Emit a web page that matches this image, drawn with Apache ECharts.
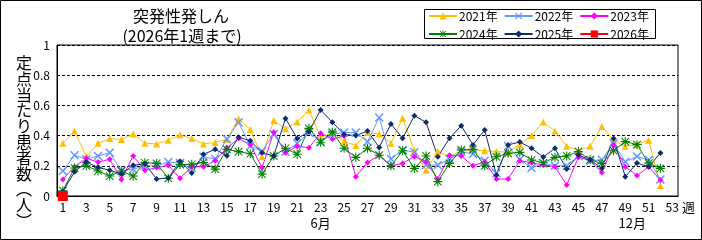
<!DOCTYPE html>
<html>
<head>
<meta charset="utf-8">
<script src="https://cdn.jsdelivr.net/npm/echarts@6/dist/echarts.min.js"></script>
<style>
html,body{margin:0;padding:0;background:#fff;}
#c{width:702px;height:240px;}
</style>
</head>
<body>
<div id="c"></div>
<script>
// ---- data ----
const weeks = Array.from({length: 53}, (_, i) => String(i + 1));
const seriesNames = ['2021年', '2022年', '2023年', '2024年', '2025年', '2026年'];
const y2021 = [0.35,0.43,0.26,0.35,0.38,0.375,0.41,0.35,0.345,0.37,
  0.405,0.38,0.345,0.355,0.375,0.51,0.44,0.26,0.5,0.445,
  0.49,0.57,0.39,0.42,0.36,0.335,0.42,0.41,0.35,0.515,
  0.30,0.17,0.295,0.26,0.30,0.305,0.30,0.295,0.29,0.34,
  0.40,0.49,0.43,0.33,0.30,0.33,0.46,0.37,0.33,0.34,
  0.37,0.07];
const y2022 = [0.166,0.27,0.243,0.265,0.287,0.168,0.177,0.2,0.2,0.225,
  0.218,0.185,0.26,0.245,0.377,0.488,0.33,0.297,0.41,0.293,
  0.349,0.42,0.36,0.41,0.42,0.42,0.36,0.52,0.245,0.305,
  0.29,0.205,0.205,0.243,0.294,0.278,0.234,0.15,0.331,0.243,
  0.185,0.216,0.2,0.2,0.265,0.232,0.24,0.35,0.227,0.262,
  0.238,0.11];
const y2023 = [0.11,0.194,0.25,0.225,0.243,0.11,0.265,0.17,0.188,0.203,
  0.117,0.194,0.194,0.233,0.32,0.38,0.34,0.187,0.423,0.287,
  0.33,0.32,0.415,0.377,0.398,0.128,0.222,0.27,0.2,0.216,
  0.262,0.227,0.113,0.27,0.265,0.2,0.227,0.113,0.113,0.234,
  0.22,0.205,0.194,0.073,0.256,0.238,0.155,0.338,0.194,0.135,
  0.194,0.106];
const y2024 = [0.035,0.185,0.2,0.166,0.132,0.166,0.132,0.22,0.216,0.117,
  0.208,0.21,0.222,0.178,0.309,0.294,0.28,0.145,0.265,0.316,
  0.277,0.448,0.356,0.423,0.316,0.256,0.316,0.27,0.2,0.3,
  0.183,0.265,0.095,0.216,0.305,0.309,0.2,0.26,0.283,0.289,
  0.238,0.22,0.256,0.265,0.295,0.24,0.216,0.3,0.36,0.34,
  0.218,0.183];
const y2025 = [0.03,0.16,0.225,0.19,0.17,0.146,0.203,0.214,0.113,0.119,
  0.23,0.152,0.276,0.309,0.267,0.389,0.366,0.287,0.265,0.514,
  0.38,0.426,0.57,0.488,0.408,0.4,0.43,0.322,0.477,0.382,
  0.532,0.488,0.26,0.382,0.466,0.338,0.437,0.139,0.338,0.358,
  0.316,0.258,0.316,0.178,0.271,0.24,0.183,0.38,0.128,0.218,
  0.194,0.285];
const y2026 = [0];
const yTicks = [0, 0.2, 0.4, 0.6, 0.8, 1];
const titleLines = ['突発性発しん', '(2026年1週まで)'];
const yName = ['定','点','当','た','り','患','者','数','︵','人','︶'];
const monthLabels = [{week: 23, text: '6月'}, {week: 49.6, text: '12月'}];

// ---- styles ----
const FONT = '"Noto Sans CJK JP", "Noto Sans", sans-serif';
const xPath = 'path://M0,1.2L1.2,0L5,3.8L8.8,0L10,1.2L6.2,5L10,8.8L8.8,10L5,6.2L1.2,10L0,8.8L3.8,5Z';
const starPath = 'path://M4.4,0H5.6V10H4.4Z M0,4.4H10V5.6H0Z M1.2,0.4L9.6,8.8L8.8,9.6L0.4,1.2Z M8.8,0.4L9.6,1.2L1.2,9.6L0.4,8.8Z';

function mk(name, data, color, symbol, size, lw) {
  return {
    name, type: 'line', data,
    symbol, symbolSize: size,
    lineStyle: {color, width: lw},
    itemStyle: {color, borderWidth: 0},
    showAllSymbol: true,
    animation: false,
    z: 2
  };
}

const chart = echarts.init(document.getElementById('c'), null, {renderer: 'canvas'});
const gridL = 57, gridR = 678, gridT = 45, gridB = 196;
const catW = (gridR - gridL) / weeks.length;

const graphics = [
  {type: 'rect', shape: {x: 0.5, y: 0.5, width: 701, height: 239}, style: {fill: 'none', stroke: '#000', lineWidth: 1}, silent: true},
  {type: 'text', style: {text: titleLines[0], x: 181, y: 16, align: 'center', verticalAlign: 'middle', font: '16px ' + FONT, fill: '#000'}},
  {type: 'text', style: {text: titleLines[1], x: 182, y: 36, align: 'center', verticalAlign: 'middle', font: '16px ' + FONT, fill: '#000'}},
  {type: 'text', style: {text: yName.join('\n'), x: 24, y: 55, align: 'center', verticalAlign: 'top', font: '16px ' + FONT, lineHeight: 15.8, fill: '#000'}},
  {type: 'text', style: {text: '週', x: 682, y: 207, align: 'left', verticalAlign: 'middle', font: '13px ' + FONT, fill: '#000'}},
  {type: 'rect', shape: {x: 424.5, y: 9.5, width: 231, height: 29}, style: {fill: '#fff', stroke: '#000', lineWidth: 1}, z: 5}
];
monthLabels.forEach(m => {
  graphics.push({type: 'text', style: {text: m.text, x: gridL + (m.week - 0.5) * catW, y: 223, align: 'center', verticalAlign: 'middle', font: '13px ' + FONT, fill: '#000'}});
});

chart.setOption({
  backgroundColor: '#fff',
  animation: false,
  textStyle: {fontFamily: FONT},
  grid: {left: gridL, right: 702 - gridR, top: gridT, bottom: 240 - gridB, show: true, borderColor: '#000', borderWidth: 1, backgroundColor: 'transparent'},
  legend: {
    data: seriesNames,
    left: 428, top: 9, width: 230,
    itemWidth: 28, itemHeight: 9, itemGap: 6,
    padding: [1, 0],
    textStyle: {fontSize: 12, color: '#000', fontFamily: FONT, width: 38, padding: [0, 0, 0, -3]},
    z: 10
  },
  xAxis: {
    type: 'category', data: weeks, boundaryGap: true,
    axisLine: {lineStyle: {color: '#000', width: 1}},
    axisTick: {show: false},
    axisLabel: {interval: 1, color: '#000', fontSize: 12, margin: 5, fontFamily: FONT},
    splitLine: {show: false}
  },
  yAxis: {
    type: 'value', min: yTicks[0], max: yTicks[yTicks.length - 1], interval: 0.2,
    axisLine: {show: true, lineStyle: {color: '#000', width: 1}},
    axisTick: {show: false},
    axisLabel: {color: '#000', fontSize: 12, margin: 7, fontFamily: FONT,
      formatter: v => String(Math.round(v * 10) / 10)},
    splitLine: {show: true, lineStyle: {color: '#000', type: [3, 2], width: 1}}
  },
  graphic: graphics,
  series: [
    mk('2021年', y2021, '#FFC000', 'triangle', 7, 1),
    mk('2022年', y2022, '#6699FF', xPath, 9, 1),
    mk('2023年', y2023, '#FF00FF', 'diamond', 6, 1),
    mk('2024年', y2024, '#008000', starPath, 9, 1),
    mk('2025年', y2025, '#0F2D69', 'diamond', 6, 1),
    Object.assign(mk('2026年', y2026, '#FF0000', 'rect', 10, 4), {z: 5})
  ]
});
</script>
</body>
</html>
